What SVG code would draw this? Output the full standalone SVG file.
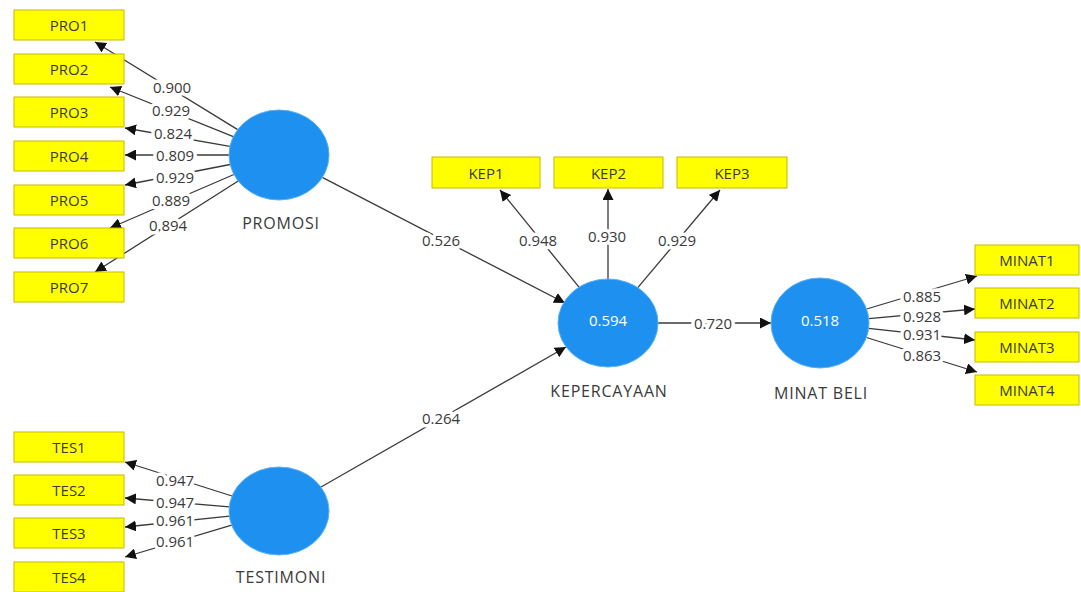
<svg xmlns="http://www.w3.org/2000/svg" width="1081" height="592" viewBox="0 0 1081 592">
<style>
.box{fill:#ffff00;stroke:#c9b800;stroke-width:1}
.lv{fill:#1e90f0;stroke:#5ab0f5;stroke-width:1}
.t{font-family:"Open Sans","Liberation Sans",sans-serif;font-size:15px;fill:#3a3a3a;text-anchor:middle;dominant-baseline:central}
.n{font-size:16px;letter-spacing:0.8px}
.w{fill:#ffffff;font-size:15px}
.c line{stroke:#3a3a3a;stroke-width:1.3;marker-end:url(#ah)}
.lbl{font-family:"Open Sans","Liberation Sans",sans-serif;font-size:15px;fill:#3a3a3a;text-anchor:middle;dominant-baseline:central;stroke:#fff;stroke-width:7;stroke-linejoin:round;paint-order:stroke}
</style>
<defs>
<marker id="ah" viewBox="0 0 10 10" refX="10" refY="5" markerWidth="11" markerHeight="11" markerUnits="userSpaceOnUse" orient="auto">
<path d="M0,0 L10,5 L0,10 z" fill="#111"/>
</marker>
</defs>
<rect width="1081" height="592" fill="#fff"/>
<g class="c" id="connectors">
<line x1="237.7" y1="129.6" x2="95" y2="42"/>
<line x1="233.3" y1="136.6" x2="110" y2="87"/>
<line x1="229.9" y1="146.4" x2="125" y2="128"/>
<line x1="229" y1="155" x2="125" y2="155"/>
<line x1="230.1" y1="164.5" x2="125" y2="185"/>
<line x1="233.9" y1="174.5" x2="110" y2="228"/>
<line x1="238.2" y1="181" x2="95" y2="272"/>
<line x1="232" y1="496" x2="125" y2="462"/>
<line x1="229.2" y1="506.8" x2="125" y2="498"/>
<line x1="229.4" y1="516.2" x2="125" y2="527"/>
<line x1="231.7" y1="525.1" x2="125" y2="557"/>
<line x1="322.3" y1="177.4" x2="565" y2="303"/>
<line x1="321" y1="487" x2="566" y2="347"/>
<line x1="579" y1="287.2" x2="500" y2="190"/>
<line x1="608" y1="279" x2="608" y2="189"/>
<line x1="637.8" y1="287.6" x2="720" y2="190"/>
<line x1="658" y1="323" x2="771" y2="323"/>
<line x1="866.6" y1="309" x2="977" y2="276"/>
<line x1="868.7" y1="318.6" x2="975" y2="309"/>
<line x1="868.6" y1="328.3" x2="975" y2="340"/>
<line x1="866.4" y1="337.5" x2="977" y2="372"/>
<text class="lbl" x="172" y="87">0.900</text>
<text class="lbl" x="171" y="110">0.929</text>
<text class="lbl" x="173" y="133">0.824</text>
<text class="lbl" x="175" y="155">0.809</text>
<text class="lbl" x="175" y="177">0.929</text>
<text class="lbl" x="171" y="200">0.889</text>
<text class="lbl" x="168" y="225">0.894</text>
<text class="lbl" x="175" y="480">0.947</text>
<text class="lbl" x="175" y="502">0.947</text>
<text class="lbl" x="175" y="520">0.961</text>
<text class="lbl" x="175" y="541">0.961</text>
<text class="lbl" x="441" y="240">0.526</text>
<text class="lbl" x="441" y="418">0.264</text>
<text class="lbl" x="538" y="240">0.948</text>
<text class="lbl" x="607" y="236">0.930</text>
<text class="lbl" x="677" y="240">0.929</text>
<text class="lbl" x="713" y="323">0.720</text>
<text class="lbl" x="922" y="296">0.885</text>
<text class="lbl" x="922" y="316">0.928</text>
<text class="lbl" x="922" y="334">0.931</text>
<text class="lbl" x="922" y="355">0.863</text>
</g>
<g id="PRO1"><rect class="box" x="14" y="10" width="110" height="30"/><text class="t" x="69" y="25">PRO1</text></g>
<g id="PRO2"><rect class="box" x="14" y="54" width="110" height="30"/><text class="t" x="69" y="69">PRO2</text></g>
<g id="PRO3"><rect class="box" x="14" y="97" width="110" height="30"/><text class="t" x="69" y="112">PRO3</text></g>
<g id="PRO4"><rect class="box" x="14" y="141" width="110" height="30"/><text class="t" x="69" y="156">PRO4</text></g>
<g id="PRO5"><rect class="box" x="14" y="185" width="110" height="30"/><text class="t" x="69" y="200">PRO5</text></g>
<g id="PRO6"><rect class="box" x="14" y="228" width="110" height="30"/><text class="t" x="69" y="243">PRO6</text></g>
<g id="PRO7"><rect class="box" x="14" y="272" width="110" height="30"/><text class="t" x="69" y="287">PRO7</text></g>
<g id="TES1"><rect class="box" x="14" y="432" width="110" height="30"/><text class="t" x="69" y="447">TES1</text></g>
<g id="TES2"><rect class="box" x="14" y="475" width="110" height="30"/><text class="t" x="69" y="490">TES2</text></g>
<g id="TES3"><rect class="box" x="14" y="518" width="110" height="30"/><text class="t" x="69" y="533">TES3</text></g>
<g id="TES4"><rect class="box" x="14" y="562" width="110" height="30"/><text class="t" x="69" y="577">TES4</text></g>
<g id="KEP1"><rect class="box" x="432" y="157" width="108" height="31"/><text class="t" x="486" y="172.5">KEP1</text></g>
<g id="KEP2"><rect class="box" x="554" y="157" width="109" height="31"/><text class="t" x="608.5" y="172.5">KEP2</text></g>
<g id="KEP3"><rect class="box" x="677" y="157" width="110" height="31"/><text class="t" x="732" y="172.5">KEP3</text></g>
<g id="MINAT1"><rect class="box" x="975" y="245" width="104" height="30"/><text class="t" x="1027" y="260">MINAT1</text></g>
<g id="MINAT2"><rect class="box" x="975" y="288" width="104" height="30"/><text class="t" x="1027" y="303">MINAT2</text></g>
<g id="MINAT3"><rect class="box" x="975" y="332" width="104" height="30"/><text class="t" x="1027" y="347">MINAT3</text></g>
<g id="MINAT4"><rect class="box" x="975" y="375" width="104" height="30"/><text class="t" x="1027" y="390">MINAT4</text></g>
<g id="PROMOSI"><ellipse class="lv" cx="279" cy="155" rx="50" ry="45"/><text class="t n" x="281" y="223">PROMOSI</text></g>
<g id="TESTIMONI"><ellipse class="lv" cx="279" cy="511" rx="50" ry="44"/><text class="t n" x="281" y="577">TESTIMONI</text></g>
<g id="KEPERCAYAAN"><ellipse class="lv" cx="608" cy="323" rx="50" ry="44"/><text class="t w" x="608" y="320">0.594</text><text class="t n" x="609" y="391">KEPERCAYAAN</text></g>
<g id="MINAT_BELI"><ellipse class="lv" cx="820" cy="323" rx="49" ry="45"/><text class="t w" x="820" y="320">0.518</text><text class="t n" x="821" y="393">MINAT BELI</text></g>
</svg>
